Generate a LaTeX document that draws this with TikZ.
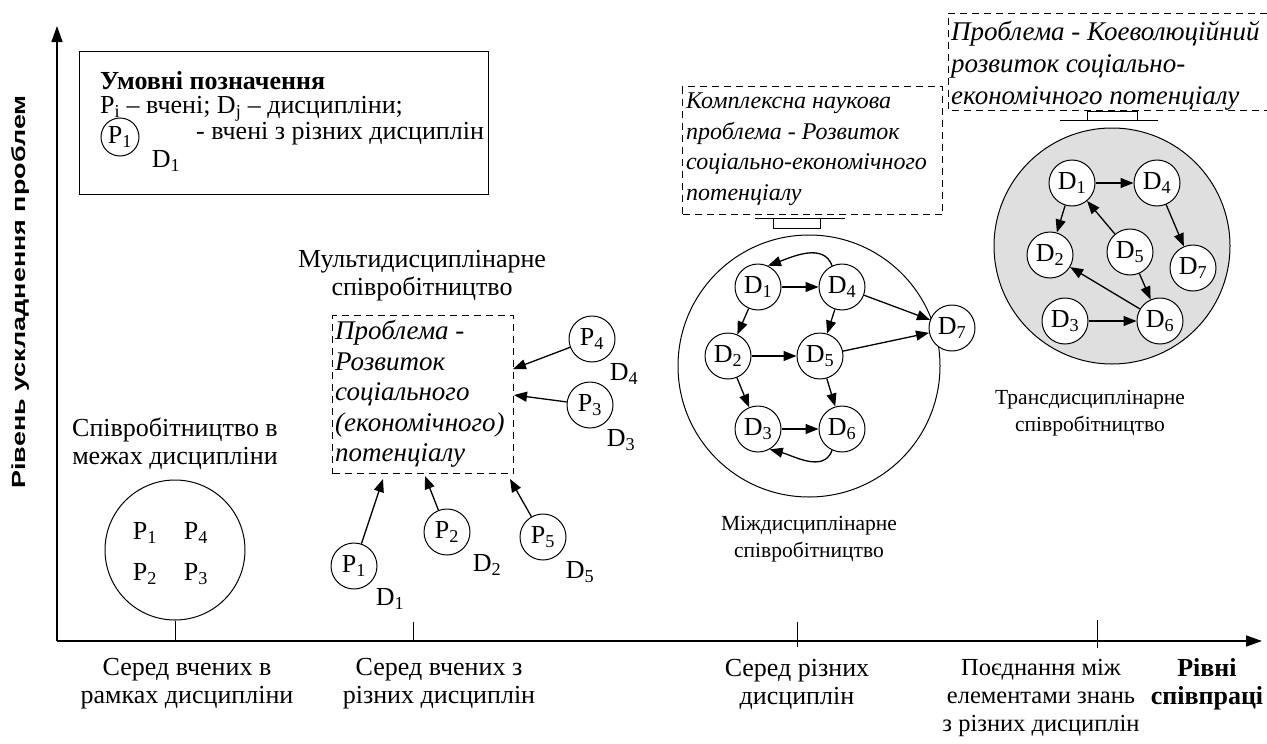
\documentclass[tikz,border=0pt]{standalone}
\usepackage{fontspec}
\usepackage{graphicx}
\setmainfont{Liberation Serif}
\newfontfamily\axisfont{Liberation Sans}
\usetikzlibrary{arrows.meta}
\begin{document}
\begin{tikzpicture}[x=1pt,y=-1pt,
  every node/.style={font=\fontsize{26}{28}\selectfont, inner sep=0pt},
  lbl/.style={align=center},
  smalllbl/.style={align=center, font=\fontsize{21.5}{27.5}\selectfont},
  prob/.style={font=\itshape\fontsize{27}{30.5}\selectfont, align=left, anchor=north west},
  dbox/.style={draw, dashed, line width=1pt, dash pattern=on 7pt off 5pt},
  circ/.style={circle, draw, line width=1pt, minimum size=46pt, fill=white},
  big/.style={circle, draw, line width=1pt},
  arr/.style={-{Triangle[length=13pt,width=10pt]}, line width=1.3pt},
  axis/.style={-{Triangle[length=16pt,width=11pt]}, line width=1.6pt},
  tick/.style={line width=1pt}
]
\useasboundingbox (0,0) rectangle (1267,744);

% axes
\coordinate (O) at (57,641);
\coordinate (Ytop) at (57,26);
\coordinate (Xend) at (1262,641);
\draw[axis] (O) -- (Ytop);
\draw[axis] (O) -- (Xend);
\node[rotate=90, font=\axisfont\bfseries\fontsize{19}{22}\selectfont] (ylab) at (21,292)
  {\scalebox{1.42}[1]{Рівень ускладнення проблем}};

% legend
\node[draw, line width=1.2pt, minimum width=409pt, minimum height=143pt, anchor=north west] (legend) at (79,51) {};
\node[anchor=west, font=\bfseries\fontsize{26}{28}\selectfont] (legt) at (100,81) {Умовні позначення};
\node[anchor=west] (legl2) at (100,109) {P\textsubscript{i} – вчені; D\textsubscript{j} – дисципліни;};
\node[circ, minimum size=38pt] (legp) at (120,137) {P\textsubscript{1}};
\node[anchor=west] (legl3) at (196,134) {- вчені з різних дисциплін};
\node (legd) at (166,161) {D\textsubscript{1}};

% level 1
\node[lbl] (cap1) at (175,444) {Співробітництво в\\межах дисципліни};
\node[big, minimum size=140pt] (c1) at (175,550) {};
\node (a1) at (145,533) {P\textsubscript{1}};
\node (a4) at (196,533) {P\textsubscript{4}};
\node (a2) at (145,574) {P\textsubscript{2}};
\node (a3) at (196,574) {P\textsubscript{3}};

% level 2
\node[lbl] (cap2) at (422,276) {Мультидисциплінарне\\співробітництво};
\node[dbox, minimum width=181pt, minimum height=158pt, anchor=north west] (box2) at (332,315) {};
\node[prob] (box2t) at (335,320) {Проблема -\\Розвиток\\соціального\\(економічного)\\потенціалу};
\node[circ] (p4) at (592,339) {P\textsubscript{4}};
\node (p4d) at (624,374) {D\textsubscript{4}};
\node[circ] (p3) at (590,405) {P\textsubscript{3}};
\node (p3d) at (621,440) {D\textsubscript{3}};
\node[circ] (p1) at (354,566) {P\textsubscript{1}};
\node (p1d) at (390,599) {D\textsubscript{1}};
\node[circ] (p2) at (447,532) {P\textsubscript{2}};
\node (p2d) at (487,565) {D\textsubscript{2}};
\node[circ] (p5) at (543,537) {P\textsubscript{5}};
\node (p5d) at (580,572) {D\textsubscript{5}};
\coordinate (t4) at (513,369);
\coordinate (t3) at (514,395);
\coordinate (t1) at (383,479);
\coordinate (t2) at (425,476);
\coordinate (t5) at (510,479);
\draw[arr] (p4) -- (t4);
\draw[arr] (p3) -- (t3);
\draw[arr] (p1) -- (t1);
\draw[arr] (p2) -- (t2);
\draw[arr] (p5) -- (t5);

% level 3
\node[dbox, minimum width=260pt, minimum height=128pt, anchor=north west] (box3) at (682,86) {};
\node[prob, font=\itshape\fontsize{24}{30.5}\selectfont] (box3t) at (686,93) {Комплексна наукова\\проблема - Розвиток\\соціально-економічного\\потенціалу};
\coordinate (j3a) at (755,218);
\coordinate (j3b) at (845,218);
\draw[line width=1pt] (j3a) -- (j3b);
\draw[line width=1pt] (773,218) rectangle (820,228);
\node[big, minimum size=262pt] (c3) at (809,366) {};
\node[circ] (e1) at (758,287) {D\textsubscript{1}};
\node[circ] (e4) at (842,287) {D\textsubscript{4}};
\node[circ] (e2) at (728,356) {D\textsubscript{2}};
\node[circ] (e5) at (820,356) {D\textsubscript{5}};
\node[circ] (e3) at (758,429) {D\textsubscript{3}};
\node[circ] (e6) at (842,429) {D\textsubscript{6}};
\node[circ] (e7) at (952,328) {D\textsubscript{7}};
\draw[arr] (e1) -- (e4);
\draw[arr] (e4.115) to[out=110,in=20] (e1.65);
\draw[arr] (e1) -- (e2);
\draw[arr] (e4) -- (e5);
\draw[arr] (e2) -- (e5);
\draw[arr] (e2) -- (e3);
\draw[arr] (e5) -- (e6);
\draw[arr] (e3) -- (e6);
\draw[arr] (e6.-115) to[out=-110,in=-15] (e3.-60);
\draw[arr] (e4) -- (e7);
\draw[arr] (e5) -- (e7);
\node[smalllbl] (cap3) at (809,539) {Міждисциплінарне\\співробітництво};

% level 4
\coordinate (b4a) at (1267,13);
\coordinate (b4b) at (948,13);
\coordinate (b4c) at (948,110);
\coordinate (b4d) at (1267,110);
\draw[dbox] (b4a) -- (b4b) -- (b4c) -- (b4d);
\node[prob, font=\itshape\fontsize{27}{32}\selectfont] (box4t) at (951,21) {Проблема - Коеволюційний\\розвиток соціально-\\економічного потенціалу};
\draw[line width=1pt] (1087,111) rectangle (1137,120);
\coordinate (j4a) at (1060,120);
\coordinate (j4b) at (1158,120);
\draw[line width=1pt] (j4a) -- (j4b);
\node[big, minimum size=236pt, fill=gray!25] (c4) at (1112,246) {};
\node[circ] (f1) at (1072,183) {D\textsubscript{1}};
\node[circ] (f4) at (1157,183) {D\textsubscript{4}};
\node[circ] (f2) at (1050,255) {D\textsubscript{2}};
\node[circ] (f5) at (1130,252) {D\textsubscript{5}};
\node[circ] (f7) at (1193,268) {D\textsubscript{7}};
\node[circ] (f3) at (1065,321) {D\textsubscript{3}};
\node[circ] (f6) at (1160,321) {D\textsubscript{6}};
\draw[arr] (f1) -- (f4);
\draw[arr] (f1) -- (f2);
\draw[arr] (f5) -- (f1);
\draw[arr] (f4) -- (f7);
\draw[arr] (f5) -- (f6);
\draw[arr] (f6) -- (f2);
\draw[arr] (f3) -- (f6);
\node[smalllbl] (cap4) at (1090,413) {Трансдисциплінарне\\співробітництво};

% ticks
\coordinate (k1) at (175,641);
\coordinate (k2a) at (413,622);
\coordinate (k2b) at (413,641);
\coordinate (k3a) at (797,622);
\coordinate (k3b) at (797,647);
\coordinate (k4a) at (1097,620);
\coordinate (k4b) at (1097,648);
\draw[tick] (c1.south) -- (k1);
\draw[tick] (k2a) -- (k2b);
\draw[tick] (k3a) -- (k3b);
\draw[tick] (k4a) -- (k4b);

% x labels
\node[lbl] (x1) at (187,684) {Серед вчених в\\рамках дисципліни};
\node[lbl] (x2) at (439,684) {Серед вчених з\\різних дисциплін};
\node[lbl] (x3) at (797,684) {Серед різних\\дисциплін};
\node[lbl, font=\fontsize{24.5}{28}\selectfont] (x4) at (1041,698) {Поєднання між\\елементами знань\\з різних дисциплін};
\node[lbl, font=\bfseries\fontsize{26}{28}\selectfont] (x5) at (1207,684) {Рівні\\співпраці};
\end{tikzpicture}
\end{document}
